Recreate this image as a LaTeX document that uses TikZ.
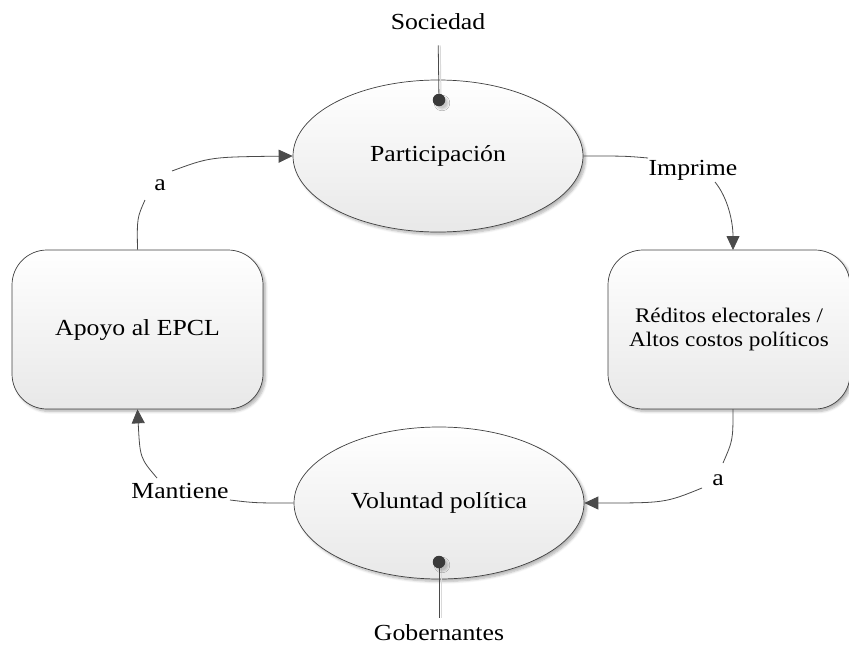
\documentclass[tikz,border=0pt]{standalone}
\usepackage{fontspec}
\setmainfont{Liberation Serif}[FakeStretch=1.12]
\usetikzlibrary{arrows.meta,shapes.geometric,shadows.blur}
\definecolor{edge}{HTML}{404040}
\definecolor{wire}{HTML}{4a4a4a}
\begin{document}
\begin{tikzpicture}[x=1pt,y=-1pt,
  txt/.style={font=\fontsize{23}{26}\selectfont, inner sep=0pt},
  boxtxt/.style={font=\fontsize{20.7}{24}\selectfont, align=center},
  soft/.style={blur shadow={shadow xshift=2.5pt, shadow yshift=-2.5pt,
      shadow blur radius=2.5pt, shadow blur steps=6, shadow opacity=30}},
  oval/.style={ellipse, draw=edge, line width=0.7pt, top color=white,
      bottom color=black!9, inner sep=0pt, minimum width=290pt,
      minimum height=152pt, soft, font=\fontsize{23}{26}\selectfont},
  card/.style={rectangle, rounded corners=35pt, draw=edge, line width=0.7pt,
      top color=white, bottom color=black!9, minimum height=159pt, soft},
  dot/.style={circle, fill=edge!90!black, inner sep=0pt, minimum size=12.5pt,
      blur shadow={shadow xshift=3pt, shadow yshift=-3pt,
      shadow blur radius=1.5pt, shadow blur steps=4, shadow opacity=20}},
  link/.style={draw=wire, line width=0.8pt},
  flow/.style={link, -{Triangle[length=14pt,width=13pt]}},
  stem/.style={link, preaction={draw=black!15, line width=1pt,
      transform canvas={xshift=2pt}}}
]
\useasboundingbox (0,0) rectangle (849,648);

% main nodes
\node[oval] (part) at (438,156) {Participación};
\node[oval] (vol) at (439,503) {Voluntad política};
\node[card, minimum width=251pt, font=\fontsize{23}{26}\selectfont] (apoyo) at (137.5,329.5) {Apoyo al EPCL};
\node[card, minimum width=242pt, boxtxt] (redi) at (729,329.5) {Réditos electorales /\\Altos costos políticos};

% actors attached to the cycle
\node[txt, anchor=base] (soc) at (438,29) {Sociedad};
\node[txt, anchor=base] (gob) at (439,640) {Gobernantes};
\draw[stem, shorten <=16pt] (soc.south) -- (439,100);
\draw[stem, shorten <=6pt] (gob.north) -- (439,562);
\node[dot] (d1) at (439,100) {};
\node[dot] (d2) at (439,562) {};

% connector labels
\node[txt, anchor=base] (imp) at (693,175) {Imprime};
\node[txt, anchor=base] (a2) at (718,485) {a};
\node[txt, anchor=base] (man) at (180,498) {Mantiene};
\node[txt, anchor=base] (a1) at (160,190) {a};

% bend points beside the labels
\coordinate (i1) at (648,158);
\coordinate (i2) at (715,182);
\coordinate (r1) at (723,463);
\coordinate (r2) at (702,488);
\coordinate (m1) at (230,500);
\coordinate (m2) at (157,478);
\coordinate (l1) at (145,200);
\coordinate (l2) at (172,171);
\coordinate (redTop) at (733,250);
\coordinate (redBot) at (733,409);

% Participación -> Réditos
\draw[link] (part.east) .. controls (625,156) .. (i1);
\draw[flow] (i2) .. controls (728,198) and (733,222) .. (redTop);
% Réditos -> Voluntad
\draw[link] (redBot) .. controls (733,440) .. (r1);
\draw[flow] (r2) .. controls (665,503) .. (vol.east);
% Voluntad -> Apoyo
\draw[link] (vol.west) .. controls (255,503) .. (m1);
\draw[flow] (m2) .. controls (140,458) .. (apoyo.south);
% Apoyo -> Participación
\draw[link] (apoyo.north) .. controls (137,218) .. (l1);
\draw[flow] (l2) .. controls (210,157) .. (part.west);
\end{tikzpicture}
\end{document}
